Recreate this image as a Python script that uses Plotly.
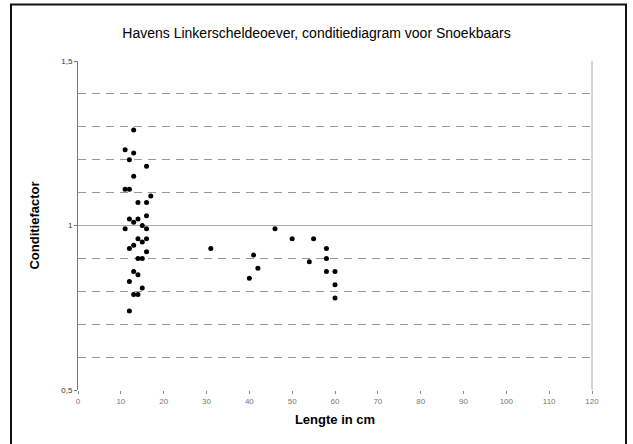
import plotly.graph_objects as go

# Lengte (cm) and conditiefactor per fish
lengte = [13, 11, 13, 12, 16, 13, 11, 12, 17, 14, 16, 16, 12, 14, 13, 15, 11, 16,
          14, 16, 15, 13, 12, 16, 14, 15, 13, 14, 12, 15, 13, 14, 12,
          31, 46, 50, 55, 41, 58, 58, 54, 42, 40, 58, 60, 60, 60]
conditie = [1.29, 1.23, 1.22, 1.20, 1.18, 1.15, 1.11, 1.11, 1.09, 1.07, 1.07, 1.03, 1.02, 1.02, 1.01, 1.00, 0.99, 0.99,
            0.96, 0.96, 0.95, 0.94, 0.93, 0.92, 0.90, 0.90, 0.86, 0.85, 0.83, 0.81, 0.79, 0.79, 0.74,
            0.93, 0.99, 0.96, 0.96, 0.91, 0.93, 0.90, 0.89, 0.87, 0.84, 0.86, 0.86, 0.82, 0.78]

x_ticks = list(range(0, 121, 10))
y_ticks = [0.5, 1.0, 1.5]
y_ticktext = ["0,5", "1", "1,5"]

FONT = "Liberation Sans, Arial, sans-serif"

fig = go.Figure()
fig.add_trace(go.Scatter(
    x=lengte, y=conditie, mode="markers",
    marker=dict(color="black", size=5, line=dict(width=0)),
    showlegend=False,
))

fig.update_layout(
    width=633, height=444,
    margin=dict(l=78, r=41, t=61, b=54, autoexpand=False),
    paper_bgcolor="white", plot_bgcolor="white",
    font=dict(family=FONT, color="black"),
    title=dict(text="Havens Linkerscheldeoever, conditiediagram voor Snoekbaars",
               x=0.5, xref="container", xanchor="center",
               y=1 - 33 / 444, yref="container", yanchor="middle",
               font=dict(size=14, family=FONT, color="black")),
    xaxis=dict(
        range=[0, 120], tickvals=x_ticks, ticktext=[str(v) for v in x_ticks],
        showgrid=False, zeroline=False, showline=False, automargin=False,
        ticks="outside", ticklen=3, tickcolor="#888",
        tickfont=dict(size=8, color="#777"),
        title=dict(text="<b>Lengte in cm</b>", font=dict(size=13, color="black"), standoff=10),
    ),
    yaxis=dict(
        range=[0.5, 1.5], tickvals=y_ticks, ticktext=y_ticktext,
        showgrid=True, gridcolor="#aaa", gridwidth=1,
        minor=dict(dtick=0.1, tick0=0.5, showgrid=True, gridcolor="#999",
                   griddash="8px,6px", ticks=""),
        zeroline=False, showline=True, linecolor="#777", linewidth=1, automargin=False,
        ticks="outside", ticklen=3, tickcolor="#777",
        tickfont=dict(size=8, color="#333"),
        title=dict(text="<b>Conditiefactor</b>", font=dict(size=13, color="black"), standoff=18),
    ),
    shapes=[
        dict(type="line", xref="paper", yref="paper", x0=1, x1=1, y0=0, y1=1,
             line=dict(color="#aaa", width=1)),
        dict(type="line", xref="paper", yref="paper", x0=0, x1=1, y0=0, y1=0,
             line=dict(color="white", width=2)),
        dict(type="rect", xref="paper", yref="paper",
             x0=(11 - 78) / 514, x1=(626 - 78) / 514,
             y0=(390 - 447) / 329, y1=(390 - 4.5) / 329,
             line=dict(color="#111", width=2), layer="above"),
    ],
)

fig.write_html("out.html", config={"displayModeBar": False},
               post_script="document.body.style.margin='0';")
